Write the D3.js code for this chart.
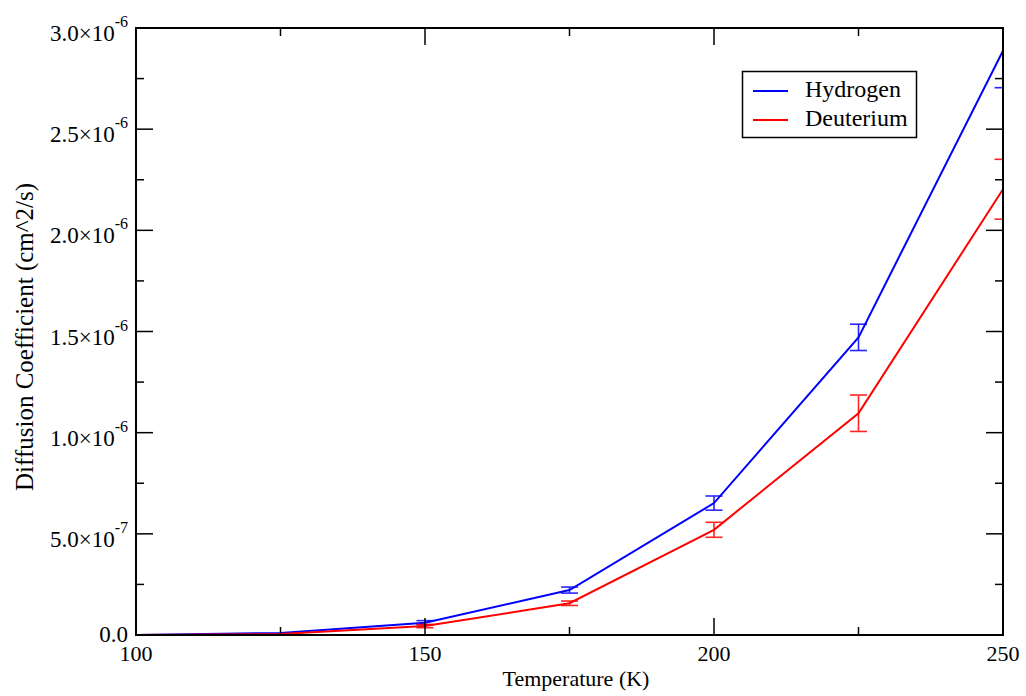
<!DOCTYPE html>
<html><head><meta charset="utf-8">
<script src="https://cdn.jsdelivr.net/npm/d3@7"></script>
<style>body{margin:0;background:#fff}svg{display:block}text{font-family:"Liberation Serif","Times New Roman",serif}</style>
</head><body><svg id="c" width="1026" height="696"></svg>
<script>
const temps = [100, 125, 150, 175, 200, 225, 250];
const hydrogen = [0.0, 0.01e-6, 0.061e-6, 0.222e-6, 0.652e-6, 1.471e-6, 2.888e-6];
const hydrogenErr = [0, 0.002e-6, 0.01e-6, 0.015e-6, 0.035e-6, 0.065e-6, 0.183e-6];
const deuterium = [0.0, 0.005e-6, 0.044e-6, 0.157e-6, 0.52e-6, 1.096e-6, 2.203e-6];
const deuteriumErr = [0, 0.002e-6, 0.008e-6, 0.011e-6, 0.037e-6, 0.09e-6, 0.148e-6];
const xMajor = [100, 150, 200, 250];
const xMinor = [125, 175, 225];
const yMajor = [0, 0.5e-6, 1.0e-6, 1.5e-6, 2.0e-6, 2.5e-6, 3.0e-6];
const yMinor = [0.25e-6, 0.75e-6, 1.25e-6, 1.75e-6, 2.25e-6, 2.75e-6];
const yMant = ["0.0", "5.0", "1.0", "1.5", "2.0", "2.5", "3.0"];
const yExp = ["", "-7", "-6", "-6", "-6", "-6", "-6"];
const series = [
  {name: "Hydrogen", color: "#0000ff", vals: hydrogen, err: hydrogenErr},
  {name: "Deuterium", color: "#ff0000", vals: deuterium, err: deuteriumErr}
];

const L = 136, R = 1003, T = 28, B = 635;
const svg = d3.select("#c");
const x = d3.scaleLinear().domain([100, 250]).range([L, R]);
const y = d3.scaleLinear().domain([0, 3.0e-6]).range([B, T]);

svg.append("defs").append("clipPath").attr("id", "clip")
  .append("rect").attr("x", L).attr("y", T).attr("width", R - L).attr("height", B - T);

const plot = svg.append("g").attr("clip-path", "url(#clip)");
series.forEach(s => {
  const line = d3.line().x((d, i) => x(temps[i])).y(d => y(d));
  plot.append("path").datum(s.vals).attr("d", line)
    .attr("fill", "none").attr("stroke", s.color).attr("stroke-width", 2);
  const eb = plot.append("g").attr("stroke", s.color).attr("stroke-width", 1.6).attr("opacity", 0.85);
  s.vals.forEach((v, i) => {
    if (s.err[i] <= 0 || i < 2) return;
    const cx = x(temps[i]), y1 = y(v + s.err[i]), y2 = y(v - s.err[i]);
    eb.append("line").attr("x1", cx).attr("x2", cx).attr("y1", y1).attr("y2", y2);
    eb.append("line").attr("x1", cx - 8.5).attr("x2", cx + 8.5).attr("y1", y1).attr("y2", y1);
    eb.append("line").attr("x1", cx - 8.5).attr("x2", cx + 8.5).attr("y1", y2).attr("y2", y2);
  });
});

// axes frame
const ax = svg.append("g").attr("stroke", "#000").attr("stroke-width", 2);
ax.append("rect").attr("x", L).attr("y", T).attr("width", R - L).attr("height", B - T).attr("fill", "none");
const tk = svg.append("g").attr("stroke", "#000").attr("stroke-width", 1.5);
xMajor.forEach(v => {
  tk.append("line").attr("x1", x(v)).attr("x2", x(v)).attr("y1", B).attr("y2", B - 17);
  tk.append("line").attr("x1", x(v)).attr("x2", x(v)).attr("y1", T).attr("y2", T + 17);
});
xMinor.forEach(v => {
  tk.append("line").attr("x1", x(v)).attr("x2", x(v)).attr("y1", B).attr("y2", B - 8);
  tk.append("line").attr("x1", x(v)).attr("x2", x(v)).attr("y1", T).attr("y2", T + 8);
});
yMajor.forEach(v => {
  tk.append("line").attr("x1", L).attr("x2", L + 17).attr("y1", y(v)).attr("y2", y(v));
  tk.append("line").attr("x1", R).attr("x2", R - 17).attr("y1", y(v)).attr("y2", y(v));
});
yMinor.forEach(v => {
  tk.append("line").attr("x1", L).attr("x2", L + 8).attr("y1", y(v)).attr("y2", y(v));
  tk.append("line").attr("x1", R).attr("x2", R - 8).attr("y1", y(v)).attr("y2", y(v));
});

// x tick labels
xMajor.forEach(v => {
  svg.append("text").attr("x", x(v)).attr("y", B + 26).attr("text-anchor", "middle")
    .attr("font-size", 22).text(v);
});
// y tick labels
yMajor.forEach((v, i) => {
  const t = svg.append("text").attr("x", 128).attr("text-anchor", "end").attr("font-size", 23);
  if (yExp[i] === "") {
    t.attr("y", y(v) + 7).text(yMant[i]);
  } else {
    t.attr("y", y(v) + 13);
    t.append("tspan").text(yMant[i] + "\u00d710");
    t.append("tspan").attr("font-size", 16).attr("dy", -14).text(yExp[i]);
  }
});

svg.append("text").attr("x", 576).attr("y", 686).attr("text-anchor", "middle")
  .attr("font-size", 22).text("Temperature (K)");
svg.append("text").attr("transform", "translate(33,337) rotate(-90)").attr("text-anchor", "middle")
  .attr("font-size", 25).text("Diffusion Coefficient (cm^2/s)");

// legend
const lg = svg.append("g");
lg.append("rect").attr("x", 742.5).attr("y", 71.5).attr("width", 174).attr("height", 66)
  .attr("fill", "#fff").attr("stroke", "#000").attr("stroke-width", 1.5);
series.forEach((s, i) => {
  const yy = 91 + i * 29;
  lg.append("line").attr("x1", 753).attr("x2", 788).attr("y1", yy).attr("y2", yy)
    .attr("stroke", s.color).attr("stroke-width", 2);
  lg.append("text").attr("x", 805).attr("y", yy + 6).attr("font-size", 24).text(s.name);
});
</script></body></html>
